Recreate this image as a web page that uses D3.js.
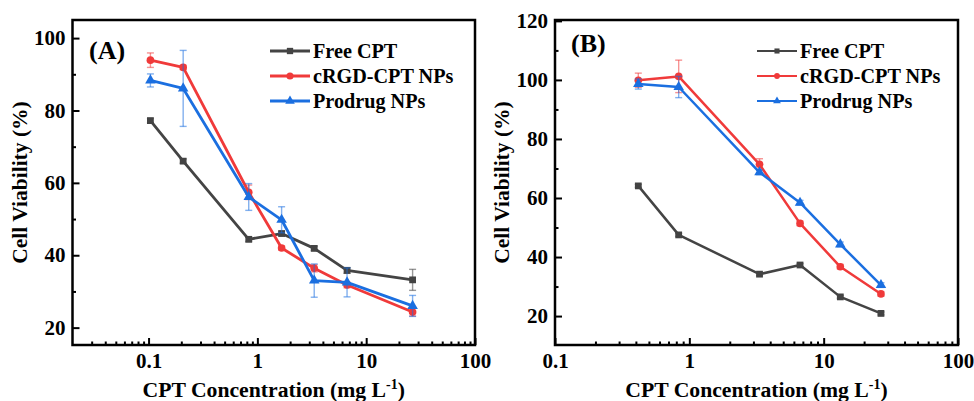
<!DOCTYPE html>
<html><head><meta charset="utf-8">
<script src="https://cdn.jsdelivr.net/npm/d3@7"></script>
</head>
<body style="margin:0;background:#fff">
<svg id="chart" width="974" height="401"></svg>
<script>
// ---------- data ----------
const seriesNames = ["Free CPT", "cRGD-CPT NPs", "Prodrug NPs"];
const seriesColors = ["#444444", "#f03a3a", "#1b6fe0"];
const seriesShapes = ["square", "circle", "triangle"];

// Panel A
const concA = [0.104, 0.208, 0.833, 1.67, 3.33, 6.67, 26.7];
const freeA = [77.2, 66.0, 44.4, 46.0, 41.9, 35.8, 33.2];
const freeErrA = [0.6, 0.6, 0.6, 0.6, 0.6, 0.8, 2.9];
const rgdA = [93.9, 91.9, 57.4, 42.0, 36.4, 31.8, 24.3];
const rgdErrA = [2.0, 0.6, 2.0, 0.6, 1.0, 0.8, 1.1];
const proA = [88.3, 86.1, 56.1, 49.8, 33.0, 32.5, 26.0];
const proErrA = [1.8, 10.5, 3.7, 3.6, 4.6, 4.0, 2.9];

// Panel B
const concB = [0.417, 0.833, 3.33, 6.67, 13.3, 26.7];
const freeB = [64.1, 47.5, 34.2, 37.3, 26.5, 20.9];
const freeErrB = [0.5, 0.5, 0.5, 0.5, 0.5, 0.5];
const rgdB = [99.9, 101.2, 71.4, 51.4, 36.7, 27.5];
const rgdErrB = [2.4, 5.5, 1.9, 0.8, 0.8, 0.8];
const proB = [98.6, 97.6, 68.7, 58.4, 44.3, 30.5];
const proErrB = [1.7, 3.6, 0.8, 0.8, 0.8, 0.8];

const xTicks = [0.1, 1, 10, 100];
const xTickLabels = ["0.1", "1", "10", "100"];
const yTicksA = [20, 40, 60, 80, 100];
const yTicksB = [20, 40, 60, 80, 100, 120];
const xTitle = "CPT Concentration (mg L";
const xTitleSup = "-1";
const yTitle = "Cell Viability (%)";

// ---------- drawing ----------
const svg = d3.select("#chart");
function serif(sel, size) {
  return sel.attr("font-family", null).attr("font-size", null)
    .attr("style", `font-family:'Liberation Serif';font-weight:bold;font-size:${size}px;fill:#000`);
}

function markerPath(shape, size) {
  const t = shape === "square" ? d3.symbolSquare : shape === "circle" ? d3.symbolCircle : d3.symbolTriangle;
  return d3.symbol().type(t).size(size)();
}

function panel(cfg) {
  const g = svg.append("g");
  const x = d3.scaleLog().domain(cfg.xDomain).range([cfg.left, cfg.right]);
  const y = d3.scaleLinear().domain(cfg.yDomain).range([cfg.bottom, cfg.top]);

  // x minor ticks
  const minors = [];
  for (let e = -2; e <= 1; e++) for (let m = 2; m <= 9; m++) {
    const v = m * Math.pow(10, e);
    if (v > cfg.xDomain[0] && v < cfg.xDomain[1]) minors.push(v);
  }
  const xAxis = d3.axisBottom(x).tickValues(xTicks).tickFormat((d, i) => xTickLabels[i]).tickSizeInner(-7).tickSizeOuter(0).tickPadding(8);
  const gx = g.append("g").attr("transform", `translate(0,${cfg.bottom})`).call(xAxis);
  gx.attr("font-family", null).attr("font-size", null);
  gx.select(".domain").remove();
  gx.selectAll("line").attr("stroke", "#000").attr("stroke-width", 2);
  serif(gx.selectAll("text"), 21);
  const gxm = g.append("g").attr("transform", `translate(0,${cfg.bottom})`)
    .call(d3.axisBottom(x).tickValues(minors).tickFormat("").tickSizeInner(-3.5).tickSizeOuter(0));
  gxm.select(".domain").remove();
  gxm.selectAll("line").attr("stroke", "#000").attr("stroke-width", 2);

  // y axis
  const yAxis = d3.axisLeft(y).tickValues(cfg.yTicks).tickSizeInner(-7).tickSizeOuter(0).tickPadding(7);
  const gy = g.append("g").attr("transform", `translate(${cfg.left},0)`).call(yAxis);
  gy.attr("font-family", null).attr("font-size", null);
  gy.select(".domain").remove();
  gy.selectAll("line").attr("stroke", "#000").attr("stroke-width", 2);
  serif(gy.selectAll("text"), 21);
  const yMinor = cfg.yTicks.slice(0, -1).map(v => v + 10).concat(cfg.yTicks[0] - 10).filter(v => v > cfg.yDomain[0] && v < cfg.yDomain[1]);
  const gym = g.append("g").attr("transform", `translate(${cfg.left},0)`)
    .call(d3.axisLeft(y).tickValues(yMinor).tickFormat("").tickSizeInner(-3.5).tickSizeOuter(0));
  gym.select(".domain").remove();
  gym.selectAll("line").attr("stroke", "#000").attr("stroke-width", 2);

  // frame
  g.append("rect").attr("x", cfg.left).attr("y", cfg.top)
    .attr("width", cfg.right - cfg.left).attr("height", cfg.bottom - cfg.top)
    .attr("fill", "none").attr("stroke", "#000").attr("stroke-width", 2.5);

  // series
  const line = d3.line().x(d => x(d[0])).y(d => y(d[1]));
  cfg.series.forEach((s, i) => {
    const pts = cfg.conc.map((c, k) => [c, s.vals[k], s.errs[k]]);
    const col = seriesColors[i];
    g.append("path").datum(pts).attr("d", line).attr("fill", "none")
      .attr("stroke", col).attr("stroke-width", cfg.lw).attr("stroke-linejoin", "round");
    g.selectAll(null).data(pts).enter().append("path")
      .attr("d", markerPath(seriesShapes[i], seriesShapes[i] === "triangle" ? 48 : 46))
      .attr("transform", d => `translate(${x(d[0])},${y(d[1])})`)
      .attr("fill", col);
    const eb = g.selectAll(null).data(pts).enter().append("g").attr("stroke", col).attr("stroke-opacity", 0.55).attr("stroke-width", 1.4);
    eb.append("line").attr("x1", d => x(d[0])).attr("x2", d => x(d[0]))
      .attr("y1", d => y(d[1] - d[2])).attr("y2", d => y(d[1] + d[2]));
    eb.append("line").attr("x1", d => x(d[0]) - 3.5).attr("x2", d => x(d[0]) + 3.5)
      .attr("y1", d => y(d[1] + d[2])).attr("y2", d => y(d[1] + d[2]));
    eb.append("line").attr("x1", d => x(d[0]) - 3.5).attr("x2", d => x(d[0]) + 3.5)
      .attr("y1", d => y(d[1] - d[2])).attr("y2", d => y(d[1] - d[2]));
  });

  // legend
  seriesNames.forEach((n, i) => {
    const yy = cfg.legY + i * 25;
    g.append("line").attr("x1", cfg.legX).attr("x2", cfg.legX + 40).attr("y1", yy).attr("y2", yy)
      .attr("stroke", seriesColors[i]).attr("stroke-width", cfg.legLw);
    g.append("path").attr("d", markerPath(seriesShapes[i], cfg.legMarker))
      .attr("transform", `translate(${cfg.legX + 20},${yy})`).attr("fill", seriesColors[i]);
    serif(g.append("text").attr("x", cfg.legX + 43).attr("y", yy + 6.5), 20.2).text(n);
  });

  // panel label
  serif(g.append("text").attr("x", cfg.labX).attr("y", cfg.labY), 26).text(cfg.label);

  // axis titles
  const xt = serif(g.append("text").attr("x", (cfg.left + cfg.right) / 2).attr("y", 397)
    .attr("text-anchor", "middle"), 21.7);
  xt.append("tspan").text(xTitle);
  xt.append("tspan").attr("style", "font-size:14px").attr("dy", -8).text(xTitleSup);
  xt.append("tspan").attr("dy", 8).text(")");
  serif(g.append("text").attr("transform", `translate(${cfg.yTitleX},${(cfg.top + cfg.bottom) / 2}) rotate(-90)`)
    .attr("text-anchor", "middle"), 21.5).text(yTitle);
}

panel({
  left: 72.5, right: 475, top: 20, bottom: 345,
  xDomain: [0.02, 100], yDomain: [15.2, 105], yTicks: yTicksA,
  conc: concA,
  series: [{vals: freeA, errs: freeErrA}, {vals: rgdA, errs: rgdErrA}, {vals: proA, errs: proErrA}],
  lw: 2.8, legX: 270, legY: 51, legLw: 2.8, legMarker: 40,
  label: "(A)", labX: 89, labY: 59, yTitleX: 27
});
panel({
  left: 555, right: 958, top: 20, bottom: 345,
  xDomain: [0.1, 100], yDomain: [10.2, 120.3], yTicks: yTicksB,
  conc: concB,
  series: [{vals: freeB, errs: freeErrB}, {vals: rgdB, errs: rgdErrB}, {vals: proB, errs: proErrB}],
  lw: 2.5, legX: 757, legY: 51, legLw: 2.2, legMarker: 26,
  label: "(B)", labX: 571, labY: 52, yTitleX: 509
});
</script>
</body></html>
